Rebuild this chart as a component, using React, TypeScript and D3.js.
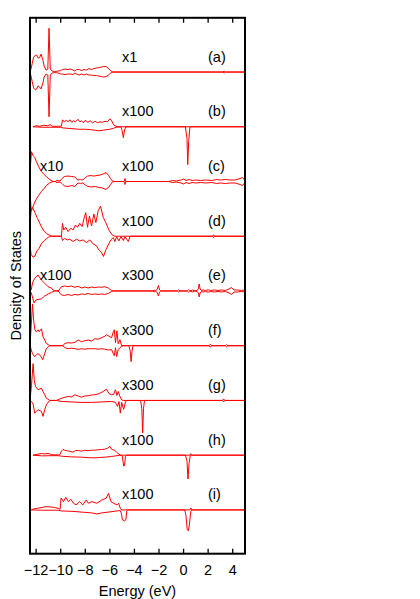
import { useEffect, useRef } from 'react';
import * as d3 from 'd3';

type Pt = [number, number];

// energy axis
const energyTicks = [-12, -10, -8, -6, -4, -2, 0, 2, 4];
const panelTags = ['(a)', '(b)', '(c)', '(d)', '(e)', '(f)', '(g)', '(h)', '(i)'];
const scaleRight = ['x1', 'x100', 'x100', 'x100', 'x300', 'x300', 'x300', 'x100', 'x100'];
const scaleLeft = ['', '', 'x10', '', 'x100', '', '', '', ''];

// DOS (arb. units), spin up / spin down, [energy eV, dos]
const aUp: Pt[] = [[-12.5,0],[-12.4,4],[-12.3,10],[-12.2,15],[-12.05,17],[-11.95,17],[-11.85,14],[-11.72,14.5],[-11.6,18],[-11.45,12],[-11.35,6],[-11.2,2],[-11.05,3],[-10.95,44],[-10.85,3],[-10.7,1],[-10.5,0.5],[-10.2,1],[-10.0,1.5],[-9.85,2.5],[-9.65,3],[-9.4,2.5],[-9.2,3],[-9.0,2],[-8.85,1],[-8.7,2.5],[-8.5,2.5],[-8.3,1.5],[-8.1,2.5],[-7.9,2],[-7.7,3.5],[-7.5,2.5],[-7.3,3.5],[-7.1,4],[-6.9,4.5],[-6.7,5],[-6.5,5.5],[-6.3,5.5],[-6.15,4],[-6.0,2],[-5.85,0.5],[-5.7,0],[3.2,0],[3.3,1],[3.4,0],[5,0]];
const aDown: Pt[] = [[-12.5,0],[-12.4,5],[-12.3,11],[-12.2,16],[-12.05,18],[-11.95,17],[-11.85,14],[-11.72,15],[-11.6,17],[-11.45,11],[-11.35,5],[-11.2,2],[-11.05,3],[-10.95,45],[-10.85,3],[-10.7,1],[-10.5,0.5],[-10.2,1],[-10.0,2],[-9.85,2],[-9.65,2.5],[-9.4,2],[-9.2,2],[-9.0,2.5],[-8.85,1],[-8.7,2],[-8.5,3],[-8.3,2],[-8.1,3],[-7.9,2],[-7.7,3],[-7.5,3],[-7.3,3.5],[-7.1,3.5],[-6.9,4],[-6.7,4.5],[-6.5,5],[-6.3,4.5],[-6.15,3.5],[-6.0,1.5],[-5.85,0.5],[-5.7,0],[3.2,0],[3.3,1],[3.4,0],[5,0]];

const bUp: Pt[] = [[-12.26,0],[-12.0,1],[-11.7,0.5],[-11.4,1.5],[-11.1,1],[-10.85,2],[-10.7,0.5],[-10.2,0.5],[-9.95,0.5],[-9.85,7],[-9.7,5],[-9.55,6.5],[-9.4,5],[-9.25,7],[-9.1,4.5],[-8.95,6],[-8.8,5],[-8.6,7.5],[-8.45,5],[-8.3,6],[-8.15,4],[-8.0,6.5],[-7.8,4.5],[-7.6,6],[-7.4,4],[-7.2,5.5],[-7.0,4],[-6.8,5],[-6.6,4.5],[-6.4,5.5],[-6.2,5],[-6.0,8],[-5.85,6],[-5.7,2],[-5.5,0.5],[-5.3,0],[5,0]];
const bDown: Pt[] = [[-12.26,0],[-11.5,0.5],[-10.0,0.5],[-9.9,1],[-9.5,1.5],[-9.0,2],[-8.5,2.5],[-8.0,2.5],[-7.5,3],[-7.2,3.5],[-6.9,4],[-6.6,3.5],[-6.3,3],[-6.0,2.5],[-5.7,1.5],[-5.5,0.5],[-5.1,0],[-5.0,4],[-4.9,11],[-4.8,3],[-4.7,0],[0.15,0],[0.28,12],[0.34,38],[0.42,14],[0.52,0],[5,0]];

const cUp: Pt[] = [[-12.5,10],[-12.38,30],[-12.25,26],[-12.1,24],[-11.98,20],[-11.8,15],[-11.57,10],[-11.35,7],[-11.17,5],[-10.9,2],[-10.62,0],[-10.45,0],[-10.3,1],[-10.05,0.5],[-9.9,3],[-9.7,5],[-9.4,5.5],[-9.1,5],[-8.85,4.5],[-8.6,1.5],[-8.4,2],[-8.2,1.5],[-8.0,4],[-7.8,5.5],[-7.55,6],[-7.3,5.5],[-7.05,6],[-6.8,6.5],[-6.55,7.5],[-6.3,9],[-6.1,6],[-5.95,3],[-5.8,0.5],[-5.6,0],[-4.85,0],[-4.77,3],[-4.7,0],[-1.2,0],[-0.9,1],[-0.6,0.5],[-0.2,1.5],[0.0,2.5],[0.2,1],[0.45,2],[0.7,1],[1.0,1.5],[1.4,1],[1.8,1.5],[2.3,1],[2.7,2],[3.0,1.5],[3.4,2],[3.8,1.5],[4.2,1.5],[4.6,3],[4.8,4],[5,1]];
const cDown: Pt[] = [[-12.5,10],[-12.4,30],[-12.3,27],[-12.15,22],[-12.0,18],[-11.8,14],[-11.57,10],[-11.35,7],[-11.17,4],[-10.9,1.5],[-10.62,0],[-10.45,0],[-10.3,1],[-10.05,0.5],[-9.9,2],[-9.7,4.5],[-9.4,5],[-9.1,4],[-8.85,5],[-8.6,1.5],[-8.4,2],[-8.2,1.5],[-8.0,3.5],[-7.8,5],[-7.5,5.5],[-7.2,5],[-6.9,6],[-6.6,6.5],[-6.35,8],[-6.1,6],[-5.95,3],[-5.8,0.5],[-5.6,0],[-4.85,0],[-4.77,3],[-4.7,0],[-1.2,0],[-0.9,1],[-0.6,0.5],[-0.2,1.5],[0.0,2.5],[0.2,1],[0.45,2],[0.7,1],[1.0,1.5],[1.4,1],[1.8,1.5],[2.3,1],[2.7,2],[3.0,1.5],[3.4,2],[3.8,1.5],[4.2,1.5],[4.6,3],[4.8,4],[5,1]];

const dUp: Pt[] = [[-12.5,10],[-12.4,28],[-12.3,29],[-12.1,24],[-11.9,18],[-11.7,13],[-11.55,9],[-11.35,5],[-11.14,2.5],[-10.9,1],[-10.73,0],[-9.94,0],[-9.86,13],[-9.75,6.3],[-9.6,9],[-9.4,4.7],[-9.18,8],[-9.0,6.3],[-8.8,11.3],[-8.63,9],[-8.45,13],[-8.26,9.7],[-8.1,18],[-7.96,23.7],[-7.82,9],[-7.66,20.3],[-7.49,10.3],[-7.3,22.3],[-7.14,13.7],[-6.95,25.7],[-6.76,30.3],[-6.54,19],[-6.33,13.7],[-6.08,6.3],[-5.81,1.3],[-5.59,0],[2.35,0],[2.44,1.5],[2.53,0],[5,0]];
const dDown: Pt[] = [[-12.5,6],[-12.42,18],[-12.25,21],[-12.1,20],[-11.95,15],[-11.75,12],[-11.55,7],[-11.3,4],[-11.0,1],[-10.8,0],[-9.94,0],[-9.86,4.3],[-9.67,2.3],[-9.45,3.7],[-9.26,3],[-9.0,5.3],[-8.72,3],[-8.45,4.7],[-8.18,3.7],[-7.9,6.3],[-7.63,3.7],[-7.36,7.7],[-7.08,9.7],[-6.9,13.7],[-6.68,16.3],[-6.52,20.3],[-6.33,13.7],[-6.13,8.7],[-5.92,3.7],[-5.72,1.3],[-5.59,5.3],[-5.45,0.5],[-5.26,4.7],[-5.1,0.3],[-4.9,4.3],[-4.77,0.3],[-4.5,5.3],[-4.36,0.3],[-4.23,0],[2.35,0],[2.44,1.5],[2.53,0],[5,0]];

const eUp: Pt[] = [[-12.5,0],[-12.4,1],[-12.3,8],[-12.12,12.7],[-11.85,16],[-11.57,11],[-11.3,7.7],[-11.03,4.3],[-10.76,3],[-10.62,1],[-10.49,0.3],[-10.21,0],[-10.08,2],[-9.94,4.3],[-9.67,5],[-9.4,4.3],[-9.13,5],[-8.85,3.7],[-8.58,4.7],[-8.31,3],[-8.04,4],[-7.77,3],[-7.49,4],[-7.22,3.3],[-6.95,4],[-6.68,3.7],[-6.41,4.3],[-6.13,3],[-5.86,0.5],[-5.7,0],[-2.5,0],[-2.4,1],[-2.3,0],[-2.15,1.5],[-2.05,5.5],[-1.95,1],[-1.85,0],[-0.5,0],[-0.4,1],[-0.3,0],[0.3,0],[0.4,1.2],[0.5,0],[0.75,1],[0.85,0],[1.1,0.5],[1.2,2],[1.27,7],[1.35,2],[1.45,0.5],[1.6,1],[1.8,0.5],[2.0,1.2],[2.2,0.5],[2.5,1],[2.8,0.5],[3.1,1],[3.4,0.5],[3.7,2],[3.9,3.5],[4.1,1],[4.4,1],[4.7,0.5],[5,1]];
const eDown: Pt[] = [[-12.5,0],[-12.4,2],[-12.3,6],[-12.17,12],[-12.0,9],[-11.85,8.5],[-11.57,8],[-11.3,5],[-11.03,3],[-10.76,1.5],[-10.49,0],[-10.21,0],[-10.08,2],[-9.94,4],[-9.67,4.5],[-9.4,3.5],[-9.13,4.5],[-8.85,3.5],[-8.58,4],[-8.31,3],[-8.04,3.5],[-7.77,2.5],[-7.49,3.5],[-7.22,3],[-6.95,3.5],[-6.68,3],[-6.41,3.5],[-6.13,2.5],[-5.86,0.5],[-5.7,0],[-2.5,0],[-2.4,1],[-2.3,0],[-2.15,1.5],[-2.05,5],[-1.95,1],[-1.85,0],[-0.5,0],[-0.4,1],[-0.3,0],[0.3,0],[0.4,1.2],[0.5,0],[0.75,1],[0.85,0],[1.1,0.5],[1.2,2],[1.27,6],[1.35,2],[1.45,0.5],[1.6,1],[1.8,0.5],[2.0,1.2],[2.2,0.5],[2.5,1],[2.8,0.5],[3.1,1],[3.4,0.5],[3.7,2],[3.9,3.5],[4.1,1],[4.4,1],[4.7,0.5],[5,1]];

const fUp: Pt[] = [[-12.5,0],[-12.4,20],[-12.3,42],[-12.2,25],[-12.1,16],[-12.0,14],[-11.85,16],[-11.75,14],[-11.57,17],[-11.44,9],[-11.3,5.7],[-11.17,2.3],[-10.95,0.5],[-10.9,0],[-9.81,0],[-9.67,2.3],[-9.4,3],[-9.13,2.7],[-8.85,3.3],[-8.58,5.7],[-8.31,4],[-8.04,5],[-7.77,5.7],[-7.49,4.7],[-7.22,7],[-6.95,6.5],[-6.68,8],[-6.41,9.5],[-6.27,11],[-6.0,9],[-5.86,8],[-5.72,14],[-5.64,16],[-5.54,3],[-5.43,15],[-5.32,2],[-5.18,6],[-5.04,0],[2.07,0],[2.17,1.5],[2.27,0],[3.4,0],[3.5,1],[3.6,0],[5,0]];
const fDown: Pt[] = [[-12.5,0],[-12.4,4],[-12.3,8],[-12.12,11],[-11.98,9],[-11.85,8],[-11.65,10],[-11.47,14],[-11.3,8],[-11.17,3],[-10.95,0.5],[-10.9,0],[-9.81,0],[-9.67,2],[-9.4,3],[-9.13,2.5],[-8.85,3],[-8.58,3.7],[-8.31,3],[-8.04,3.5],[-7.77,3],[-7.49,3],[-7.22,3],[-6.95,3.5],[-6.68,3],[-6.41,3.5],[-6.13,4.3],[-5.86,4],[-5.72,8],[-5.64,10],[-5.54,2],[-5.45,11],[-5.32,4],[-5.18,2],[-5.04,0.5],[-4.9,0],[-4.45,0],[-4.35,5],[-4.27,16],[-4.2,6],[-4.12,0],[2.07,0],[2.17,1.5],[2.27,0],[3.4,0],[3.5,1],[3.6,0],[5,0]];

const gUp: Pt[] = [[-12.5,0],[-12.38,15],[-12.25,37],[-12.15,20],[-12.05,14],[-11.85,10.7],[-11.57,12.3],[-11.44,9],[-11.3,5.7],[-11.17,2.3],[-10.89,0],[-10.35,0],[-10.08,1.5],[-9.81,2.7],[-9.4,4],[-9.13,3.5],[-8.85,5.7],[-8.58,4.5],[-8.31,3.3],[-8.04,4.5],[-7.77,4.7],[-7.49,5.5],[-7.22,5.7],[-6.95,6.5],[-6.81,7.3],[-6.54,9],[-6.27,11.3],[-6.08,7],[-5.86,5.7],[-5.7,6],[-5.54,10.7],[-5.43,5],[-5.32,9],[-5.18,4],[-5.04,0.5],[-4.9,0],[3.16,0],[3.26,1.5],[3.36,0],[5,0]];
const gDown: Pt[] = [[-12.5,0],[-12.26,2.7],[-12.12,12.7],[-11.98,11],[-11.85,9.3],[-11.57,11],[-11.44,16],[-11.3,9.3],[-11.17,4.3],[-10.89,0],[-10.35,0],[-9.94,1],[-9.13,1.5],[-8.31,2],[-7.49,2],[-6.68,1.5],[-5.86,1],[-5.54,2],[-5.37,6],[-5.26,1],[-5.15,12.7],[-5.04,2],[-4.88,9],[-4.72,1],[-4.6,0],[-3.5,0],[-3.4,8],[-3.33,32.6],[-3.26,8],[-3.18,0],[3.16,0],[3.26,1.5],[3.36,0],[5,0]];

const hUp: Pt[] = [[-12.26,0],[-12.12,0.5],[-11.85,1],[-11.57,1.7],[-11.3,1.3],[-11.03,1.7],[-10.76,0.7],[-10.49,0.3],[-10.08,0.3],[-9.94,4],[-9.81,5.7],[-9.67,5],[-9.45,4.3],[-9.26,4],[-9.0,3],[-8.8,4.7],[-8.58,4.7],[-8.31,4],[-8.04,5],[-7.77,4.5],[-7.49,5],[-7.22,5],[-6.95,5.5],[-6.68,5.7],[-6.41,6],[-6.19,7],[-6.0,9],[-5.86,6],[-5.64,5],[-5.45,3],[-5.26,1],[-5.1,0],[0.5,0],[0.58,1.5],[0.66,0],[5,0]];
const hDown: Pt[] = [[-12.26,0],[-11.5,0.7],[-10.8,0.5],[-10.2,0.5],[-9.94,1],[-9.13,1.7],[-8.31,2],[-7.77,2.5],[-7.22,2.7],[-6.81,2.3],[-6.41,2],[-5.86,1.3],[-5.54,0.7],[-5.18,0],[-5.0,0.5],[-4.93,6],[-4.87,11],[-4.8,10],[-4.73,1],[-4.65,0],[0.15,0],[0.28,6],[0.36,24],[0.45,8],[0.55,0],[5,0]];

const iUp: Pt[] = [[-12.4,0],[-12.2,1],[-11.95,1.5],[-11.6,2.3],[-11.2,3.3],[-10.87,3],[-10.5,2.5],[-10.2,1.5],[-10.05,0.5],[-9.97,12],[-9.78,8.3],[-9.59,12.7],[-9.37,8.3],[-9.18,10.7],[-8.96,6.7],[-8.74,5],[-8.47,8.3],[-8.2,5],[-7.93,10],[-7.74,6.7],[-7.46,8.3],[-7.06,6.7],[-6.65,10],[-6.3,11.7],[-6.11,16.7],[-5.91,8.3],[-5.7,6.7],[-5.42,5],[-5.29,6.7],[-5.15,1.7],[-5.05,0],[0.52,0],[0.6,2],[0.68,0],[5,0]];
const iDown: Pt[] = [[-12.4,0],[-11.5,0.3],[-10.2,0.3],[-9.97,1],[-9.0,1.5],[-8.2,2.3],[-7.5,3],[-7.06,4],[-6.65,3],[-6.0,2],[-5.42,1],[-5.15,0.7],[-5.05,4],[-4.98,10],[-4.8,11],[-4.7,10],[-4.62,1],[-4.55,0],[0.1,0],[0.2,6],[0.3,20],[0.4,21],[0.5,12],[0.58,2],[0.65,0],[5,0]];

const spinUp = [aUp, bUp, cUp, dUp, eUp, fUp, gUp, hUp, iUp];
const spinDown = [aDown, bDown, cDown, dDown, eDown, fDown, gDown, hDown, iDown];
const panelStep = 55;

const W = 420;
const H = 599;
const FONT = '"Liberation Sans", Arial, Helvetica, sans-serif';

export default function App() {
  const ref = useRef<SVGSVGElement>(null);

  useEffect(() => {
    const svg = d3.select(ref.current);
    svg.selectAll('*').remove();

    const left = 30, right = 245, top = 17.8, bottom = 553.7;
    const x = d3.scaleLinear().domain([-12.5, 5]).range([left, right]);
    const y = d3.scaleLinear().domain([-44, 494.5]).range([bottom, top]);

    const clip = svg.append('clipPath').attr('id', 'plot-clip');
    clip.append('rect').attr('x', left).attr('y', top).attr('width', right - left).attr('height', bottom - top);

    const g = svg.append('g').attr('clip-path', 'url(#plot-clip)');

    const n = spinUp.length;
    for (let k = 0; k < n; k++) {
      const off = (n - 1 - k) * panelStep;
      const up = d3.line<Pt>().x((d) => x(d[0])).y((d) => y(off + d[1]));
      const dn = d3.line<Pt>().x((d) => x(d[0])).y((d) => y(off - d[1]));
      g.append('path').attr('d', up(spinUp[k])).attr('fill', 'none').attr('stroke', '#ff0000').attr('stroke-width', 1);
      g.append('path').attr('d', dn(spinDown[k])).attr('fill', 'none').attr('stroke', '#ff0000').attr('stroke-width', 1);

      const ty = y(off) - 10.5;
      svg.append('text').attr('x', 122).attr('y', ty).text(scaleRight[k]);
      svg.append('text').attr('x', 208).attr('y', ty).text(panelTags[k]);
      if (scaleLeft[k]) svg.append('text').attr('x', 40).attr('y', ty).text(scaleLeft[k]);
    }

    // frame
    svg.append('rect')
      .attr('x', left).attr('y', top)
      .attr('width', right - left).attr('height', bottom - top)
      .attr('fill', 'none').attr('stroke', '#000').attr('stroke-width', 2);

    // ticks top and bottom, inward
    const tk = svg.append('g');
    energyTicks.forEach((t) => {
      tk.append('line').attr('x1', x(t)).attr('x2', x(t)).attr('y1', bottom).attr('y2', bottom - 5)
        .attr('stroke', '#000').attr('stroke-width', 1.3);
      tk.append('line').attr('x1', x(t)).attr('x2', x(t)).attr('y1', top).attr('y2', top + 5)
        .attr('stroke', '#000').attr('stroke-width', 1.3);
      tk.append('text').attr('x', x(t)).attr('y', 575).attr('text-anchor', 'middle')
        .text(t < 0 ? '\u2212' + Math.abs(t) : String(t));
    });

    svg.append('text').attr('x', (left + right) / 2).attr('y', 596).attr('text-anchor', 'middle')
      .text('Energy (eV)');
    svg.append('text')
      .attr('transform', `translate(20.5,${(top + bottom) / 2}) rotate(-90)`)
      .attr('text-anchor', 'middle')
      .text('Density of States');

    svg.selectAll('text').attr('font-family', FONT).attr('font-size', 14.5).attr('fill', '#000');
  }, []);

  return (
    <svg
      ref={ref}
      width={W}
      height={H}
      style={{ position: 'absolute', left: 0, top: 0, background: '#fff' }}
    />
  );
}
